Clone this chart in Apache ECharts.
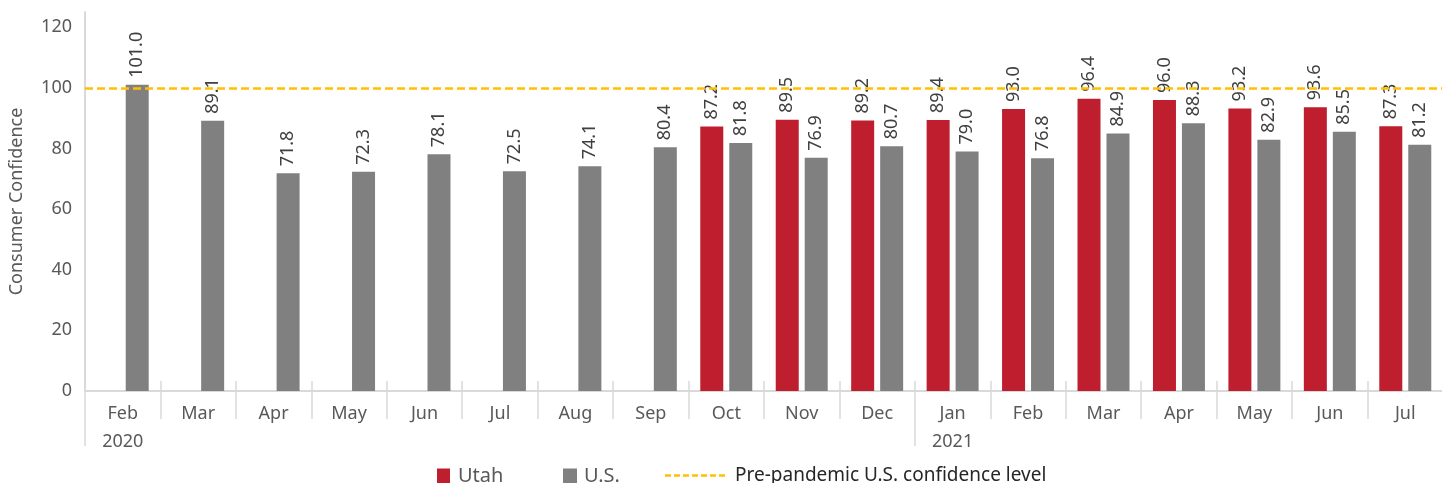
<!DOCTYPE html>
<html>
<head>
<meta charset="utf-8">
<script src="https://cdn.jsdelivr.net/npm/echarts@6/dist/echarts.min.js"></script>
<style>
  html, body { margin: 0; padding: 0; background: #fff; }
  #chart { width: 1442px; height: 483px; }
</style>
</head>
<body>
<div id="chart"></div>
<script>
// months, with the year shown under the first month of each year
const months = ['Feb', 'Mar', 'Apr', 'May', 'Jun', 'Jul', 'Aug', 'Sep', 'Oct', 'Nov', 'Dec',
  'Jan', 'Feb', 'Mar', 'Apr', 'May', 'Jun', 'Jul'];
const yearLabels = { 0: '2020', 11: '2021' };
const utahValues = [null, null, null, null, null, null, null, null,
  87.2, 89.5, 89.2, 89.4, 93.0, 96.4, 96.0, 93.2, 93.6, 87.3];
const usValues = [101.0, 89.1, 71.8, 72.3, 78.1, 72.5, 74.1, 80.4,
  81.8, 76.9, 80.7, 79.0, 76.8, 84.9, 88.3, 82.9, 85.5, 81.2];
const prePandemicLevel = 100;
const yTicks = [0, 20, 40, 60, 80, 100, 120];

const FONT = '"Noto Sans", sans-serif';
const AXIS_GREY = '#d9d9d9';
const DASH_ICON = 'path://M0 0h6v2.5h-6z M9 0h6v2.5h-6z M18 0h6v2.5h-6z M27 0h6v2.5h-6z'
  + ' M36 0h6v2.5h-6z M45 0h6v2.5h-6z M54 0h6v2.5h-6z';

const myChart = echarts.init(document.getElementById('chart'));

const barLabel = {
  show: true,
  position: 'top',
  rotate: 90,
  align: 'left',
  verticalAlign: 'middle',
  distance: 7,
  fontSize: 18,
  fontFamily: FONT,
  color: '#404040',
  formatter: (p) => p.value.toFixed(1),
};

// extra x axes only draw the separator ticks (cross ticks + long year ticks)
const tickAxis = (opts) => ({
  type: 'category',
  data: months,
  position: 'bottom',
  gridIndex: 0,
  axisLine: { show: false },
  axisLabel: { show: false },
  splitLine: { show: false },
  ...opts,
});

const option = {
  animation: false,
  textStyle: { fontFamily: FONT },
  grid: {
    left: 85, right: -1, top: 12, bottom: 92,
    containLabel: false,
    outerBoundsMode: 'none',
  },
  legend: [
    {
      data: ['Utah'], left: 432, top: 461, icon: 'rect',
      itemWidth: 13, itemHeight: 15, itemGap: 0,
      textStyle: { fontSize: 20, color: '#595959', fontFamily: FONT, padding: [0, 0, 0, 3] },
    },
    {
      data: ['U.S.'], left: 558, top: 461, icon: 'rect',
      itemWidth: 14, itemHeight: 15, itemGap: 0,
      textStyle: { fontSize: 20, color: '#595959', fontFamily: FONT, padding: [0, 0, 0, 2] },
    },
    {
      data: ['Pre-pandemic U.S. confidence level'], left: 660, top: 461, icon: DASH_ICON,
      itemWidth: 60, itemHeight: 2.5, itemGap: 0,
      textStyle: { fontSize: 19, color: '#262626', fontFamily: FONT, padding: [0, 0, 0, 5] },
    },
  ],
  xAxis: [
    {
      type: 'category',
      data: months,
      axisLine: { lineStyle: { color: AXIS_GREY, width: 2 } },
      axisTick: { show: true, length: 28, lineStyle: { color: AXIS_GREY, width: 1.5 } },
      axisLabel: {
        interval: 0,
        margin: 9,
        fontSize: 18,
        lineHeight: 28,
        color: '#595959',
        fontFamily: FONT,
        formatter(value, index) {
          return yearLabels[index] ? `${value}\n${yearLabels[index]}` : value;
        },
      },
    },
    tickAxis({
      axisTick: { show: true, inside: true, length: 10, lineStyle: { color: AXIS_GREY, width: 1.5 } },
    }),
    tickAxis({
      axisTick: {
        show: true,
        length: 55,
        interval: (index) => yearLabels[index] !== undefined,
        lineStyle: { color: AXIS_GREY, width: 1.5 },
      },
    }),
  ],
  yAxis: {
    type: 'value',
    min: 0,
    max: 125,
    interval: 20,
    name: 'Consumer Confidence',
    nameLocation: 'middle',
    nameGap: 59,
    nameTextStyle: { fontSize: 18, color: '#595959', fontFamily: FONT },
    axisLine: { show: true, lineStyle: { color: AXIS_GREY, width: 2 } },
    axisTick: { show: false },
    splitLine: { show: false },
    axisLabel: {
      margin: 13,
      fontSize: 18,
      color: '#595959',
      fontFamily: FONT,
      formatter: (v) => (yTicks.includes(v) ? String(v) : ''),
    },
  },
  series: [
    {
      name: 'Utah',
      type: 'bar',
      data: utahValues,
      barWidth: 23,
      barGap: '26%',
      itemStyle: { color: '#BE1E2D' },
      label: barLabel,
    },
    {
      name: 'U.S.',
      type: 'bar',
      data: usValues,
      barWidth: 23,
      barGap: '26%',
      itemStyle: { color: '#808080' },
      label: barLabel,
    },
    {
      name: 'Pre-pandemic U.S. confidence level',
      type: 'line',
      data: [],
      symbol: 'none',
      itemStyle: { color: '#FFC000' },
      lineStyle: { color: '#FFC000', type: [8, 4], width: 2.5 },
      markLine: {
        silent: true,
        symbol: 'none',
        label: { show: false },
        lineStyle: { color: '#FFC000', type: [8, 4], width: 2.5 },
        data: [{ yAxis: prePandemicLevel }],
      },
    },
  ],
};

myChart.setOption(option);
</script>
</body>
</html>
